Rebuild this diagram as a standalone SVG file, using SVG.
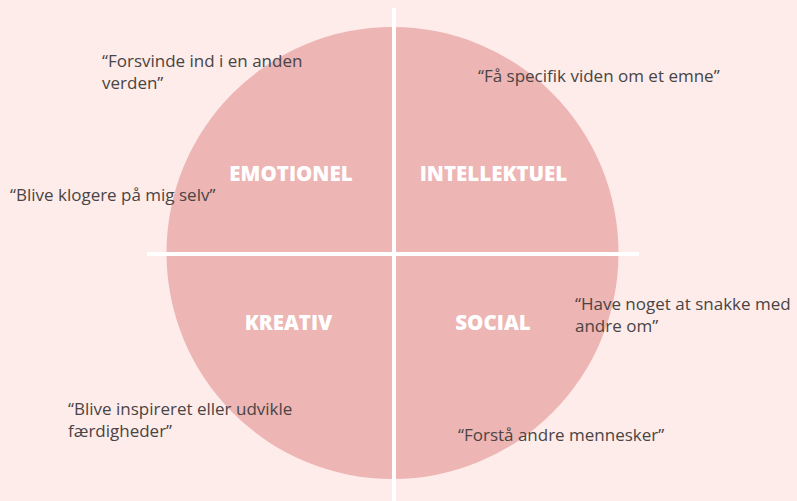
<svg xmlns="http://www.w3.org/2000/svg" width="797" height="501" viewBox="0 0 797 501">
<style>
.q{font-family:"Open Sans","Liberation Sans",sans-serif;font-size:17px;fill:#4a4444}
.h{font-family:"Open Sans","Liberation Sans",sans-serif;font-size:20.5px;font-weight:800;fill:#ffffff}
.ln{stroke:#ffffff;stroke-width:4}
</style>
<rect width="797" height="501" fill="#fdecea"/>
<g id="circle"><circle cx="392.5" cy="253" r="226" fill="#edb5b3"/></g>
<g id="connectors">
<line class="ln" x1="394" y1="8" x2="394" y2="501"/>
<line class="ln" x1="147" y1="254" x2="639" y2="254"/>
</g>
<g id="emotionel"><text class="h" x="291" y="181" text-anchor="middle">EMOTIONEL</text></g>
<g id="intellektuel"><text class="h" x="493.5" y="181" text-anchor="middle">INTELLEKTUEL</text></g>
<g id="kreativ"><text class="h" x="288.5" y="330" text-anchor="middle">KREATIV</text></g>
<g id="social"><text class="h" x="493" y="330" text-anchor="middle">SOCIAL</text></g>
<g id="q1"><text class="q" x="102" y="67">“Forsvinde ind i en anden</text><text class="q" x="102" y="89">verden”</text></g>
<g id="q2"><text class="q" x="478" y="82">“Få specifik viden om et emne”</text></g>
<g id="q3"><text class="q" x="10" y="201">“Blive klogere på mig selv”</text></g>
<g id="q4"><text class="q" x="575" y="310">“Have noget at snakke med</text><text class="q" x="575" y="332">andre om”</text></g>
<g id="q5"><text class="q" x="68" y="415">“Blive inspireret eller udvikle</text><text class="q" x="68" y="437">færdigheder”</text></g>
<g id="q6"><text class="q" x="458" y="441">“Forstå andre mennesker”</text></g>
</svg>
